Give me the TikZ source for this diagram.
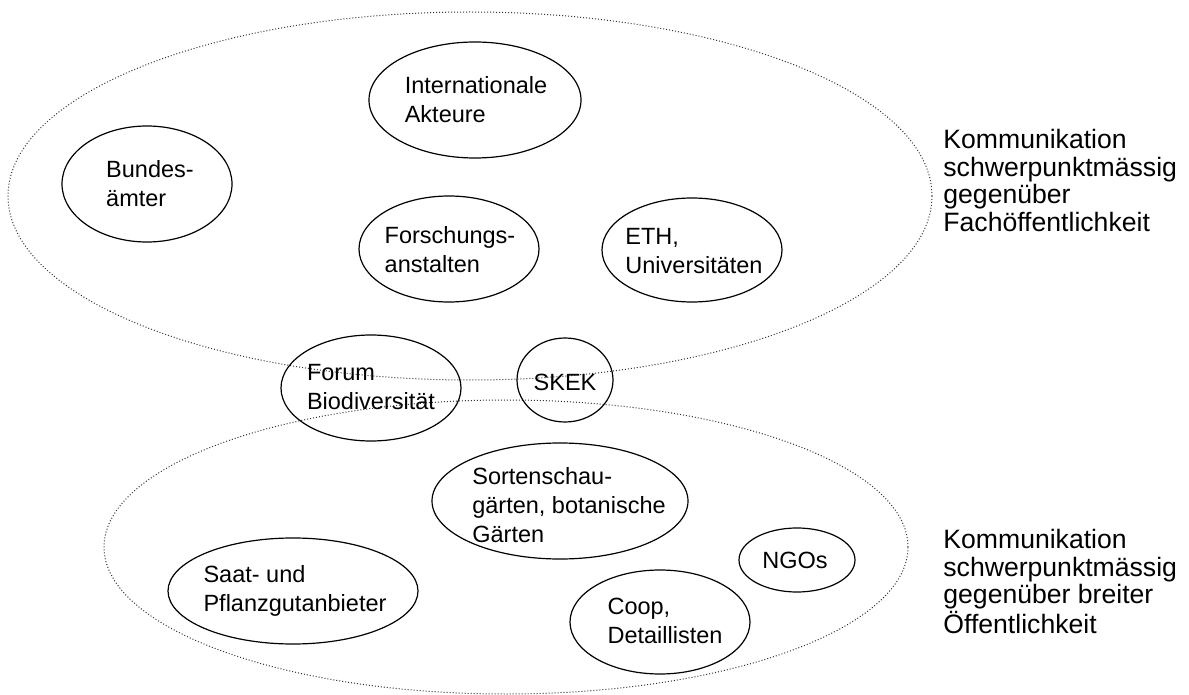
\documentclass[tikz,border=0pt]{standalone}
\usepackage{fontspec}
\setmainfont{Liberation Sans}
\tikzset{
  blob/.style={line width=0.6pt},
  field/.style={densely dotted, line width=0.5pt, black!80},
  txt/.style={align=left, inner sep=0pt, font=\fontsize{11.75}{14.5}\selectfont},
  side/.style={align=left, inner sep=0pt, anchor=north west, font=\fontsize{13.3}{13.75}\selectfont},
}
\begin{document}
\begin{tikzpicture}[x=0.5pt,y=-0.5pt]
\useasboundingbox (0,0) rectangle (1189,695);
% the two publics
\draw[field] (470,196) ellipse [x radius=231pt, y radius=92pt];
\draw[field] (506,547) ellipse [x radius=201pt, y radius=73.5pt];
% actors, upper field
\node[txt] (inter) at (476,100) {Internationale\\Akteure};
\draw[blob] (475,100) ellipse [x radius=53pt, y radius=29pt];
\node[txt] (bundes) at (150,184) {Bundes-\\ämter};
\draw[blob] (147,184) ellipse [x radius=42.5pt, y radius=29pt];
\node[txt] (forsch) at (450,250) {Forschungs-\\anstalten};
\draw[blob] (449,249) ellipse [x radius=45pt, y radius=26.5pt];
\node[txt] (eth) at (694,251) {ETH,\\Universitäten};
\draw[blob] (692,250) ellipse [x radius=45pt, y radius=26pt];
% in between
\node[txt] (forum) at (371,387) {Forum\\Biodiversität};
\draw[blob] (371,388) ellipse [x radius=45pt, y radius=26.5pt];
\node[txt] (skek) at (565,382) {SKEK};
\draw[blob] (565,380) ellipse [x radius=24pt, y radius=21pt];
% actors, lower field
\node[txt] (sorten) at (569,505) {Sortenschau-\\gärten, botanische\\Gärten};
\draw[blob] (560,501) ellipse [x radius=64pt, y radius=29pt];
\node[txt] (ngo) at (795,560) {NGOs};
\draw[blob] (797,560) ellipse [x radius=29pt, y radius=16pt];
\node[txt] (coop) at (665,621) {Coop,\\Detaillisten};
\draw[blob] (660,622) ellipse [x radius=45pt, y radius=26pt];
\node[txt] (saat) at (295,591) {Saat- und\\Pflanzgutanbieter};
\draw[blob] (293,591) ellipse [x radius=62.5pt, y radius=26.5pt];
% side notes
\node[side] (fach) at (943,129) {Kommunikation\\schwerpunktmässig\\gegenüber\\Fachöffentlichkeit};
\node[side] (breit) at (943,529) {Kommunikation\\schwerpunktmässig\\gegenüber breiter\\Öffentlichkeit};
\end{tikzpicture}
\end{document}
